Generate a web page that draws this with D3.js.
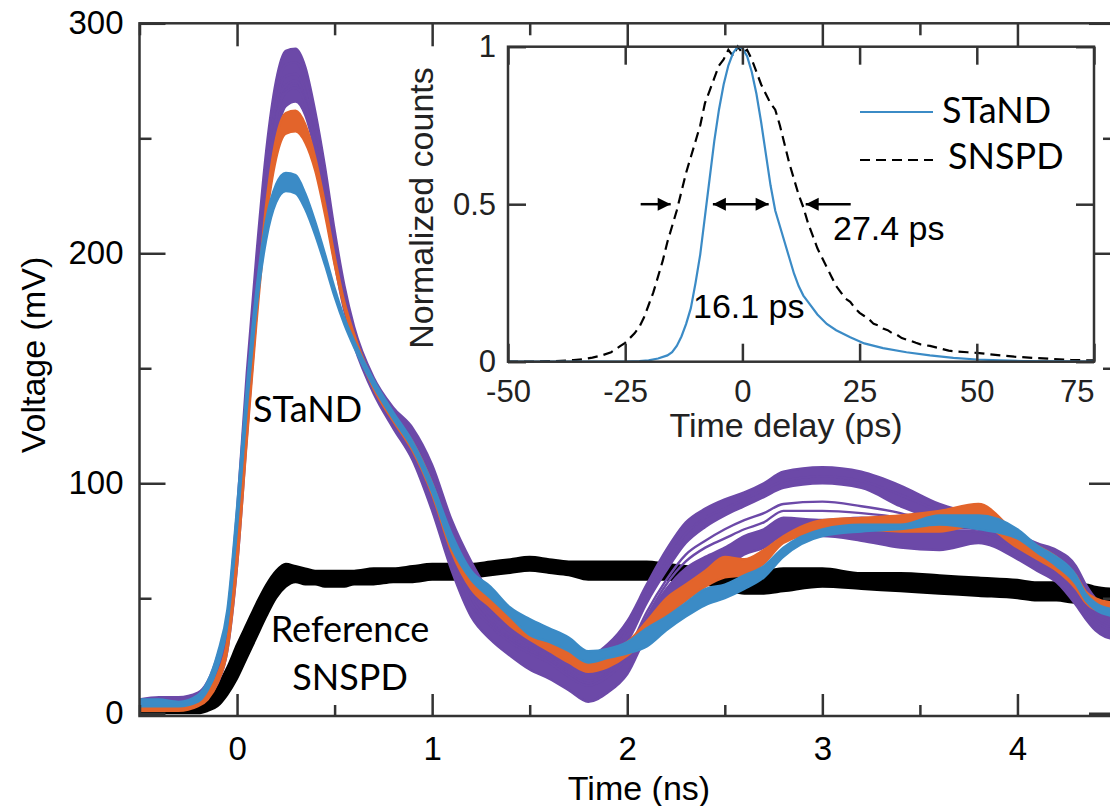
<!DOCTYPE html>
<html><head><meta charset="utf-8">
<script src="https://cdn.jsdelivr.net/npm/d3@7"></script>
<style>
body{margin:0;background:#fff;}
svg{display:block;}
</style></head>
<body>
<svg id="c" width="1110" height="806"></svg>
<script>
// ---------------- DATA ----------------
// Main plot: time grid (ns)
const T = [-0.5,-0.4,-0.3,-0.2,-0.15,-0.1,-0.05,
  0,0.05,0.1,0.15,0.2,0.25,0.3,0.35,0.4,0.45,0.5,0.55,
  0.6,0.7,0.8,0.9,1.0,1.1,1.2,1.3,1.4,1.5,1.6,1.7,1.8,1.9,2.0,2.1,2.2,2.3,2.4,2.5,2.6,2.7,2.8,
  3.0,3.2,3.4,3.6,3.8,4.0,
  4.1,4.2,4.3,4.35,4.4,4.5];
// STaND traces, purple group (mV)
const purpleA = [6,7,7,9,14,25,42, 88,148,200,245,275,288,289,281,262,238,210,186,
  168,146,133,124,108,84,66,52,45,40,35,29,25,30,40,56,71,83,89,93,96,100,105,
  107,105,99,91,86,78, 74,71,64,56,50,46];
const purpleE = [5,6,5,8,12,22,38, 82,140,194,240,270,282,283,275,256,232,205,183,
  166,144,131,121,104,80,60,47,41,36,31,25,21,26,36,52,66,78,85,89,93,97,101,
  103,101,95,88,84,77, 72,68,61,53,47,43];
const purpleB = [4,5,6,7,11,20,36, 78,136,190,236,265,277,278,270,252,228,202,181,
  165,143,129,119,101,76,56,44,38,33,28,22,18,22,31,48,62,74,81,86,90,94,98,
  100,98,90,84,82,75, 71,66,58,50,44,40];
const purpleF = [4,4,5,6,10,18,34, 75,132,186,232,261,273,275,267,250,226,201,180,
  164,142,128,117,98,73,52,41,34,29,25,19,15,19,27,44,58,69,75,80,84,87,91,
  92,90,87,82,80,73, 69,64,55,48,42,38];
const purpleG = [3,4,4,6,9,17,33, 73,130,184,230,259,271,273,266,249,225,200,179,
  163,141,127,116,96,71,50,39,32,27,23,17,13,17,25,42,56,66,72,76,80,83,88,
  88,87,85,81,80,72, 68,63,53,46,41,37];
const purpleC = [3,4,4,6,9,17,32, 72,128,182,228,258,270,272,265,248,225,200,178,
  163,141,127,115,95,70,48,38,31,26,22,16,12,16,24,41,54,63,68,72,77,80,85,
  84,85,84,80,79,71, 67,62,52,45,40,36];
const purpleD = [2,2,3,4,7,13,27, 64,120,174,220,250,264,266,260,244,221,196,175,
  160,139,124,110,88,62,42,32,25,19,15,10,5,9,17,34,46,54,60,63,69,72,77,
  77,75,72,71,74,67, 62,57,47,41,36,32];
// STaND traces, orange group (mV)
const orangeA = [3,3,3,5,9,17,32, 72,126,178,222,250,261,262,256,242,222,199,179,
  165,144,130,118,100,76,58,50,42,36,31,28,25,27,31,40,50,56,62,68,67,71,77,
  84,85,86,88,91,78, 73,68,60,53,50,48];
const orangeB = [1,1,1,3,6,13,27, 64,118,170,214,241,252,253,248,236,217,195,176,
  162,141,127,114,95,70,54,46,38,32,27,22,18,20,25,33,42,49,55,59,60,65,74,
  79,80,79,79,82,72, 67,62,54,48,45,44];
// STaND traces, blue group (mV)
const blueA = [6,6,5,8,14,26,45, 90,142,185,215,230,235,234,226,214,200,185,172,
  162,145,131,118,100,78,62,55,46,41,37,33,27,28,31,37,42,48,54,56,60,64,72,
  80,82,82,86,86,80, 73,68,60,52,48,45];
const blueB = [3,3,3,5,10,20,38, 80,132,176,206,222,227,226,219,208,195,181,169,
  159,142,128,115,96,72,58,50,42,34,31,27,22,24,26,29,36,42,47,50,54,59,68,
  77,79,80,82,80,76, 70,64,56,49,45,42];
// Reference SNSPD traces, black group (mV)
const blackA = [1,1,1,3,6,12,20, 30,39,48,56,62,65,64,63,62,62,62,62,
  62,63,63,64,65,65,65,66,67,68,67,66,66,66,66,66,65,64,63,62,62,62,63,
  63,61,61,60,59,58, 57,57,56,56,55,54];
const blackB = [0,0,0,0,1,3,8, 15,24,33,42,50,55,57,56,56,55,55,55,
  56,56,57,57,58,58,59,60,61,62,61,60,58,58,58,58,58,57,56,54,52,52,53,
  55,54,53,52,51,50, 49,49,48,48,47,46];
const mainXTicks = [0,1,2,3,4];
const mainXMinor = [-0.5,0.5,1.5,2.5,3.5,4.5];
const mainYTicks = [0,100,200,300];
const mainYMinor = [50,150,250];

// Inset: timing histograms
const tStand = [-50,-40,-30,-25,-22,-20,-18,-16,-15,-14,-13,-12,-11,-10,-9,-8,-7,-6,-5,-4,-3,-2,-1,0,1,2,3,4,5,6,7,8,9,10,11,12,13,14,16,18,20,23,26,30,35,40,45,50,55,60,70,75];
const cStand = [0,0,0,0,0.002,0.004,0.01,0.02,0.03,0.05,0.08,0.12,0.17,0.25,0.34,0.46,0.58,0.7,0.8,0.88,0.94,0.98,1.0,0.995,0.97,0.92,0.85,0.76,0.66,0.56,0.48,0.43,0.38,0.33,0.28,0.24,0.21,0.19,0.15,0.12,0.1,0.078,0.058,0.043,0.03,0.02,0.012,0.007,0.004,0.002,0.001,0];
const tSnspd = [-50,-45,-40,-36,-34,-32,-30,-28,-26,-25,-24,-23,-22,-21,-20,-19,-18,-17,-16,-15,-14,-13,-12,-11,-10,-9,-8,-7,-6,-5,-4,-3,-2,-1,0,1,2,3,4,5,6,7,8,9,10,11,12,13,14,15,16,17,18,19,20,21,22,23,24,25,26,27,28,29,30,31,32,33,34,35,36,37,38,40,42,44,46,48,50,52,55,58,62,66,70,75];
const cSnspd = [0,0,0.002,0.005,0.008,0.013,0.02,0.03,0.05,0.06,0.075,0.09,0.11,0.14,0.18,0.22,0.27,0.32,0.38,0.43,0.48,0.54,0.6,0.65,0.7,0.75,0.82,0.86,0.9,0.94,0.96,0.99,0.97,1.0,0.98,0.99,0.96,0.92,0.88,0.85,0.82,0.8,0.75,0.69,0.63,0.58,0.53,0.49,0.44,0.4,0.36,0.33,0.3,0.27,0.24,0.22,0.2,0.19,0.17,0.155,0.145,0.135,0.12,0.115,0.105,0.1,0.09,0.085,0.075,0.07,0.066,0.06,0.055,0.05,0.043,0.035,0.032,0.03,0.028,0.025,0.02,0.016,0.012,0.009,0.006,0.004];
const insetXTicks = [-50,-25,0,25,50,75];
const insetYTicks = [0,0.5,1];
// FWHM arrows (ps), at half maximum
const arrowLevel = 0.5;
const arrowLeft = [-21.7,-15.3];
const arrowMid = [-6.3,5.6];
const arrowRight = [23.1,13.5];
const fwhmStand = "16.1 ps";
const fwhmSnspd = "27.4 ps";

// ---------------- DRAW ----------------
const svg = d3.select('#c');
const C = {purple:'#6c49a8', orange:'#e3642b', blue:'#3b8bc6', black:'#000', axis:'#333'};
const x = d3.scaleLinear([-0.5,4.5],[139.5,1115]);
const y = d3.scaleLinear([-1.2,300],[716,23.3]);

svg.append('defs').append('clipPath').attr('id','clipMain')
  .append('rect').attr('x',x(-0.5)).attr('y',y(300)).attr('width',x(4.5)-x(-0.5)).attr('height',y(-1.2)-y(300));

const plot = svg.append('g').attr('clip-path','url(#clipMain)');
const line = d3.line().x((d,i)=>x(T[i])).y(d=>y(d)).curve(d3.curveMonotoneX);
function band(a,b,color,defined){
  const ar = d3.area().x((d,i)=>x(T[i])).y0((d,i)=>y(b[i])).y1(d=>y(d)).curve(d3.curveMonotoneX);
  if(defined) ar.defined((d,i)=>defined(T[i]));
  plot.append('path').attr('d',ar(a)).attr('fill',color).attr('stroke','none');
}
function trace(a,color,w){
  plot.append('path').attr('d',line(a)).attr('fill','none').attr('stroke',color).attr('stroke-width',w||2).attr('stroke-linejoin','round');
}
// black
band(blackA,blackB,C.black);
trace(blackA,C.black,2); trace(blackB,C.black,2);
// purple
band(purpleA,purpleB,C.purple);
band(purpleC,purpleD,C.purple);
band(purpleB,purpleC,C.purple,t=>t<=2.0||t>=3.8);
[purpleA,purpleE,purpleB,purpleF,purpleG,purpleC,purpleD].forEach(a=>trace(a,C.purple,2.4));
// orange
band(orangeA,orangeB,C.orange);
trace(orangeA,C.orange,2.2); trace(orangeB,C.orange,2.2);
// blue
band(blueA,blueB,C.blue);
trace(blueA,C.blue,2.2); trace(blueB,C.blue,2.2);

// main axes
const arial = '"Liberation Sans", Arial, sans-serif';
const cal = 'Lato, "Open Sans", sans-serif';
function styleAxis(g){
  g.select('.domain').remove();
  g.selectAll('line').attr('stroke',C.axis).attr('stroke-width',2.5);
  g.selectAll('text').attr('fill','#000').style('font-family',arial).style('font-size','33px');
}
const fmt = d=>String(d);
svg.append('g').attr('transform',`translate(0,${y(-1.2)})`)
  .call(d3.axisBottom(x).tickValues(mainXTicks).tickSize(-22).tickPadding(21).tickFormat(fmt))
  .call(styleAxis);
svg.append('g').attr('transform',`translate(0,${y(-1.2)})`)
  .call(d3.axisBottom(x).tickValues(mainXMinor).tickSize(-11).tickFormat('')).call(styleAxis);
svg.append('g').attr('transform',`translate(0,${y(300)})`)
  .call(d3.axisTop(x).tickValues(mainXTicks).tickSize(-23).tickFormat('')).call(styleAxis);
svg.append('g').attr('transform',`translate(0,${y(300)})`)
  .call(d3.axisTop(x).tickValues(mainXMinor).tickSize(-12).tickFormat('')).call(styleAxis);
svg.append('g').attr('transform',`translate(${x(-0.5)},0)`)
  .call(d3.axisLeft(y).tickValues(mainYTicks).tickSize(-26).tickPadding(16).tickFormat(fmt))
  .call(styleAxis);
svg.append('g').attr('transform',`translate(${x(-0.5)},0)`)
  .call(d3.axisLeft(y).tickValues(mainYMinor).tickSize(-12).tickFormat('')).call(styleAxis);
svg.append('g').attr('transform',`translate(${x(4.5)},0)`)
  .call(d3.axisRight(y).tickValues(mainYTicks).tickSize(-26).tickFormat('')).call(styleAxis);
svg.append('g').attr('transform',`translate(${x(4.5)},0)`)
  .call(d3.axisRight(y).tickValues(mainYMinor).tickSize(-12).tickFormat('')).call(styleAxis);
svg.append('rect').attr('x',x(-0.5)).attr('y',y(300)).attr('width',x(4.5)-x(-0.5)).attr('height',y(-1.2)-y(300))
  .attr('fill','none').attr('stroke',C.axis).attr('stroke-width',2.5);

svg.append('text').attr('x',639).attr('y',800).attr('text-anchor','middle')
  .style('font-family',arial).style('font-size','34px').text('Time (ns)');
svg.append('text').attr('transform','translate(45,355) rotate(-90)').attr('text-anchor','middle')
  .style('font-family',arial).style('font-size','34px').text('Voltage (mV)');
svg.append('text').attr('x',253).attr('y',422).style('font-family',cal).style('font-size','36px').text('STaND');
svg.append('text').attr('x',350).attr('y',642).attr('text-anchor','middle').style('font-family',cal).style('font-size','36px').text('Reference');
svg.append('text').attr('x',350).attr('y',690).attr('text-anchor','middle').style('font-family',cal).style('font-size','36px').text('SNSPD');

// ---------------- INSET ----------------
const xi = d3.scaleLinear([-50,75],[508,1094]);
const yi = d3.scaleLinear([0,1],[361.7,46.7]);
svg.append('rect').attr('x',xi(-50)).attr('y',yi(1)).attr('width',xi(75)-xi(-50)).attr('height',yi(0)-yi(1)).attr('fill','#fff');
const inset = svg.append('g');
const li = (tt)=>d3.line().x((d,i)=>xi(tt[i])).y(d=>yi(d));
inset.append('path').attr('d',li(tSnspd)(cSnspd)).attr('fill','none').attr('stroke','#000')
  .attr('stroke-width',2.2).attr('stroke-dasharray','10,6');
inset.append('path').attr('d',li(tStand)(cStand)).attr('fill','none').attr('stroke',C.blue).attr('stroke-width',2.2);

function styleInset(g){
  g.select('.domain').remove();
  g.selectAll('line').attr('stroke',C.axis).attr('stroke-width',2.5);
  g.selectAll('text').attr('fill','#222').style('font-family',arial).style('font-size','31px');
}
const fmtI = d=>String(d);
svg.append('g').attr('transform',`translate(0,${yi(0)})`)
  .call(d3.axisBottom(xi).tickValues(insetXTicks).tickSize(-18).tickPadding(18).tickFormat(fmtI))
  .call(styleInset).call(g=>g.selectAll('text').filter(d=>d===75).attr('text-anchor','end'));
svg.append('g').attr('transform',`translate(0,${yi(1)})`)
  .call(d3.axisTop(xi).tickValues(insetXTicks).tickSize(-18).tickFormat('')).call(styleInset);
svg.append('g').attr('transform',`translate(${xi(-50)},0)`)
  .call(d3.axisLeft(yi).tickValues(insetYTicks).tickSize(-18).tickPadding(12).tickFormat(fmtI)).call(styleInset);
svg.append('g').attr('transform',`translate(${xi(75)},0)`)
  .call(d3.axisRight(yi).tickValues(insetYTicks).tickSize(-18).tickFormat('')).call(styleInset);
svg.append('rect').attr('x',xi(-50)).attr('y',yi(1)).attr('width',xi(75)-xi(-50)).attr('height',yi(0)-yi(1))
  .attr('fill','none').attr('stroke',C.axis).attr('stroke-width',2.5);

svg.append('text').attr('x',786).attr('y',437).attr('text-anchor','middle')
  .style('font-family',arial).style('font-size','34px').attr('fill','#222').text('Time delay (ps)');
svg.append('text').attr('transform','translate(433,208) rotate(-90)').attr('text-anchor','middle')
  .style('font-family',arial).style('font-size','34px').attr('fill','#222').text('Normalized counts');

// arrows
function arrow(x0,x1,both){
  const yy = yi(arrowLevel), a = xi(x0), b = xi(x1);
  svg.append('line').attr('x1',a).attr('x2',b).attr('y1',yy).attr('y2',yy).attr('stroke','#000').attr('stroke-width',2.5);
  const head=(px,dir)=>svg.append('path').attr('d',`M${px},${yy} L${px-dir*13},${yy-6.5} L${px-dir*13},${yy+6.5} Z`).attr('fill','#000');
  head(b, b>a?1:-1);
  if(both) head(a, a>b?1:-1);
}
arrow(arrowLeft[0],arrowLeft[1],false);
arrow(arrowMid[0],arrowMid[1],true);
arrow(arrowRight[0],arrowRight[1],false);
svg.append('text').attr('x',693).attr('y',318).style('font-family',arial).style('font-size','34px').text(fwhmStand);
svg.append('text').attr('x',833).attr('y',240).style('font-family',arial).style('font-size','34px').text(fwhmSnspd);

// legend
svg.append('line').attr('x1',860).attr('x2',933).attr('y1',112).attr('y2',112).attr('stroke',C.blue).attr('stroke-width',2.2);
svg.append('line').attr('x1',860).attr('x2',933).attr('y1',160).attr('y2',160).attr('stroke','#000').attr('stroke-width',2.2).attr('stroke-dasharray','10,6');
svg.append('text').attr('x',942).attr('y',123).style('font-family',cal).style('font-size','36px').text('STaND');
svg.append('text').attr('x',948).attr('y',169).style('font-family',cal).style('font-size','36px').text('SNSPD');
</script>
</body></html>
